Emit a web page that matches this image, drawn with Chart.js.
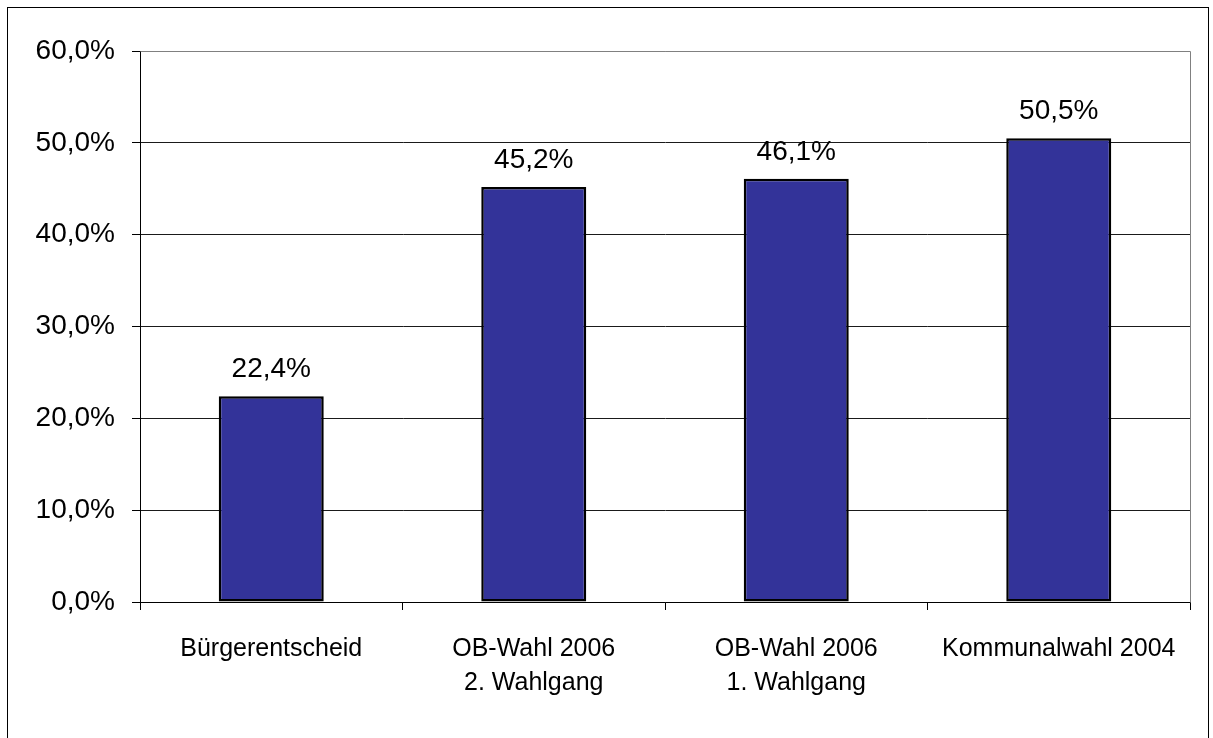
<!DOCTYPE html>
<html>
<head>
<meta charset="utf-8">
<script src="https://cdn.jsdelivr.net/npm/chart.js@4"></script>
<style>
    body { margin: 0; background: #fff; }
    #chart { position: absolute; left: 0; top: 0; }
    .frame {
        position: absolute; left: 7px; top: 7px;
        width: 1202px; height: 760px;
        box-sizing: border-box; border: 1px solid #000;
        pointer-events: none;
    }
</style>
</head>
<body>
<canvas id="chart" width="1213" height="738"></canvas>
<div class="frame"></div>
<script>
// Wahlbeteiligung im Vergleich
let categories = [
    ['Bürgerentscheid'],
    ['OB-Wahl 2006', '2. Wahlgang'],
    ['OB-Wahl 2006', '1. Wahlgang'],
    ['Kommunalwahl 2004']
];
let turnout = [22.4, 45.2, 46.1, 50.5];
let yTicks = [0, 10, 20, 30, 40, 50, 60];

function pct(v, digits) {
    return v.toFixed(digits).replace('.', ',') + '%';
}

Chart.defaults.font.family = "'Liberation Sans', Arial, sans-serif";
Chart.defaults.color = '#000';

// graue Rahmenlinie oben/rechts um die Zeichenfläche
const plotFrame = {
    id: 'plotFrame',
    beforeDatasetsDraw(chart) {
        let a = chart.chartArea;
        let ctx = chart.ctx;
        ctx.save();
        ctx.strokeStyle = '#808080';
        ctx.lineWidth = 1;
        ctx.beginPath();
        ctx.moveTo(Math.round(a.left) + 0.5, Math.round(a.top) + 0.5);
        ctx.lineTo(Math.round(a.right) + 0.5, Math.round(a.top) + 0.5);
        ctx.lineTo(Math.round(a.right) + 0.5, Math.round(a.bottom) + 0.5);
        ctx.stroke();
        ctx.restore();
    }
};

// Werte über den Balken
const valueLabels = {
    id: 'valueLabels',
    afterDatasetsDraw(chart) {
        let ctx = chart.ctx;
        let meta = chart.getDatasetMeta(0);
        ctx.save();
        ctx.font = "28px 'Liberation Sans', Arial, sans-serif";
        ctx.fillStyle = '#000';
        ctx.textAlign = 'center';
        ctx.textBaseline = 'alphabetic';
        meta.data.forEach((bar, i) => {
            ctx.fillText(pct(turnout[i], 1), bar.x, bar.y - 19);
        });
        ctx.restore();
    }
};

new Chart(document.getElementById('chart'), {
    type: 'bar',
    data: {
        labels: categories,
        datasets: [{
            data: turnout,
            backgroundColor: '#333399',
            borderColor: '#000',
            borderWidth: 2.5,
            borderSkipped: false,
            barPercentage: 0.4,
            categoryPercentage: 1
        }]
    },
    options: {
        responsive: false,
        animation: false,
        devicePixelRatio: 1,
        layout: { padding: { top: 51, right: 23, left: 0, bottom: 0 } },
        plugins: {
            legend: { display: false },
            tooltip: { enabled: false }
        },
        scales: {
            x: {
                afterFit: s => { s.height = 136; },
                grid: {
                    drawOnChartArea: false,
                    drawTicks: true,
                    tickLength: 8,
                    tickColor: '#000',
                    offset: true
                },
                border: { color: '#000', width: 1 },
                ticks: {
                    font: { size: 25, lineHeight: 1.36 },
                    padding: 22,
                    maxRotation: 0,
                    autoSkip: false
                }
            },
            y: {
                min: yTicks[0],
                max: yTicks[yTicks.length - 1],
                afterFit: s => { s.width = 140; },
                afterBuildTicks: s => { s.ticks = yTicks.map(v => ({ value: v })); },
                grid: {
                    color: c => (c.tick && c.tick.value === 60) ? '#808080' : '#1a1a1a',
                    lineWidth: 1,
                    tickLength: 8,
                    tickColor: '#000'
                },
                border: { color: '#000', width: 1 },
                ticks: {
                    font: { size: 28 },
                    padding: 17,
                    callback: v => pct(v, 1)
                }
            }
        }
    },
    plugins: [plotFrame, valueLabels]
});
</script>
</body>
</html>
